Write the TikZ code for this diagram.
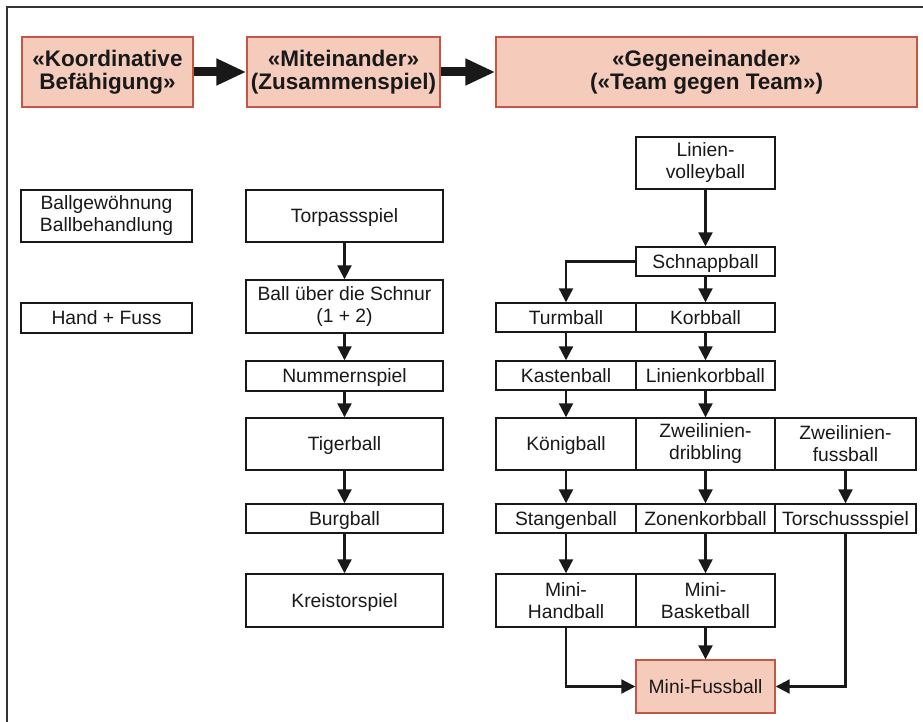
\documentclass[tikz,border=0pt]{standalone}
\usepackage{fontspec}
\setmainfont{Liberation Sans}
\usetikzlibrary{arrows.meta}
\definecolor{hdrfill}{RGB}{245,204,188}
\definecolor{hdrdraw}{RGB}{192,88,68}
\definecolor{ink}{RGB}{25,25,25}
\begin{document}
\begin{tikzpicture}[x=1pt,y=-1pt,
  box/.style={draw=ink, line width=1.4pt, fill=white, inner sep=0pt, align=center,
    text=ink, font=\fontsize{19.3}{22}\selectfont},
  sl/.style={text height=13.9pt, text depth=0pt},
  hdr/.style={draw=hdrdraw, line width=1.4pt, fill=hdrfill, inner sep=0pt, align=center,
    text=ink, font=\bfseries\fontsize{22.5}{23}\selectfont},
  red/.style={box, draw=hdrdraw, fill=hdrfill},
  cola/.style={minimum width=140pt},
  colb/.style={minimum width=139pt},
  colc/.style={minimum width=141pt},
  midc/.style={minimum width=197pt},
  lftc/.style={minimum width=171pt},
  hsm/.style={minimum height=29pt},
  hbg/.style={minimum height=52pt},
  conn/.style={draw=ink, line width=2.2pt, -{Triangle[length=14pt,width=14pt]}},
  bigarrow/.style={draw=ink, line width=9pt, -{Triangle[length=30pt,width=25pt]}},
  framel/.style={draw=black!80, line width=1.6pt}
]
\useasboundingbox (0,0) rectangle (923,722);
\fill[white] (0,0) rectangle (923,722);
% frame (top and left edges)
\draw[framel] (7,722) -- (7,7) -- (923,7);

% header
\node[hdr, minimum width=171pt, minimum height=70pt] (k) at (107.5,72) {«Koordinative\\Befähigung»};
\node[hdr, minimum width=193pt, minimum height=70pt] (m) at (343.5,72) {«Miteinander»\\(Zusammenspiel)};
\node[hdr, minimum width=421pt, minimum height=70pt] (g) at (706.5,72) {«Gegeneinander»\\(«Team gegen Team»)};
\draw[bigarrow] (k.east) -- (m.west);
\draw[bigarrow] (m.east) -- (g.west);

% left column
\node[box, lftc, hbg] (bg) at (106.5,216) {Ballgewöhnung\\Ballbehandlung};
\node[box, sl, lftc, minimum height=30pt] (hf) at (106.5,318) {Hand + Fuss};

% middle column
\node[box, sl, midc, hbg] (tp) at (344.5,216) {Torpassspiel};
\node[box, midc, minimum height=53pt] (bs) at (344.5,306.5) {Ball über die Schnur\\(1 + 2)};
\node[box, sl, midc, minimum height=30pt] (ns) at (344.5,376) {Nummernspiel};
\node[box, sl, midc, hbg] (tb) at (344.5,444) {Tigerball};
\node[box, sl, midc, hsm] (bb) at (344.5,518.5) {Burgball};
\node[box, sl, midc, minimum height=53pt] (ks) at (344.5,600.5) {Kreistorspiel};

% right part
\node[box, colb, hbg] (lv) at (705.5,163) {Linien-\\volleyball};
\node[box, sl, colb, hsm] (sb) at (705.5,261.5) {Schnappball};
\node[box, sl, cola, hsm] (turm) at (566,317.5) {Turmball};
\node[box, sl, colb, hsm] (korb) at (705.5,317.5) {Korbball};
\node[box, sl, cola, hsm] (kast) at (566,375.5) {Kastenball};
\node[box, sl, colb, hsm] (lkb) at (705.5,375.5) {Linienkorbball};
\node[box, sl, cola, hbg] (koen) at (566,444) {Königball};
\node[box, colb, hbg] (zd) at (705.5,444) {Zweilinien-\\dribbling};
\node[box, colc, hbg] (zf) at (845.5,444) {Zweilinien-\\fussball};
\node[box, sl, cola, hsm] (stang) at (566,518.5) {Stangenball};
\node[box, sl, colb, hsm] (zk) at (705.5,518.5) {Zonenkorbball};
\node[box, sl, colc, hsm] (ts) at (845.5,518.5) {Torschussspiel};
\node[box, cola, minimum height=53pt] (mh) at (566,600.5) {Mini-\\Handball};
\node[box, colb, minimum height=53pt] (mbk) at (705.5,600.5) {Mini-\\Basketball};
\node[red, sl, colb, minimum height=53pt] (mf) at (705.5,686.5) {Mini-Fussball};

% connectors middle column
\draw[conn] (tp.south) -- (bs.north);
\draw[conn] (bs.south) -- (ns.north);
\draw[conn] (ns.south) -- (tb.north);
\draw[conn] (tb.south) -- (bb.north);
\draw[conn] (bb.south) -- (ks.north);

% connectors right part
\draw[conn] (lv.south) -- (sb.north);
\draw[conn] (sb.west) -| (turm.north);
\draw[conn] (sb.south) -- (korb.north);
\draw[conn] (turm.south) -- (kast.north);
\draw[conn] (korb.south) -- (lkb.north);
\draw[conn] (kast.south) -- (koen.north);
\draw[conn] (lkb.south) -- (zd.north);
\draw[conn] (koen.south) -- (stang.north);
\draw[conn] (zd.south) -- (zk.north);
\draw[conn] (zf.south) -- (ts.north);
\draw[conn] (stang.south) -- (mh.north);
\draw[conn] (zk.south) -- (mbk.north);
\draw[conn] (mbk.south) -- (mf.north);
\draw[conn] (mh.south) |- (mf.west);
\draw[conn] (ts.south) |- (mf.east);
\end{tikzpicture}
\end{document}
